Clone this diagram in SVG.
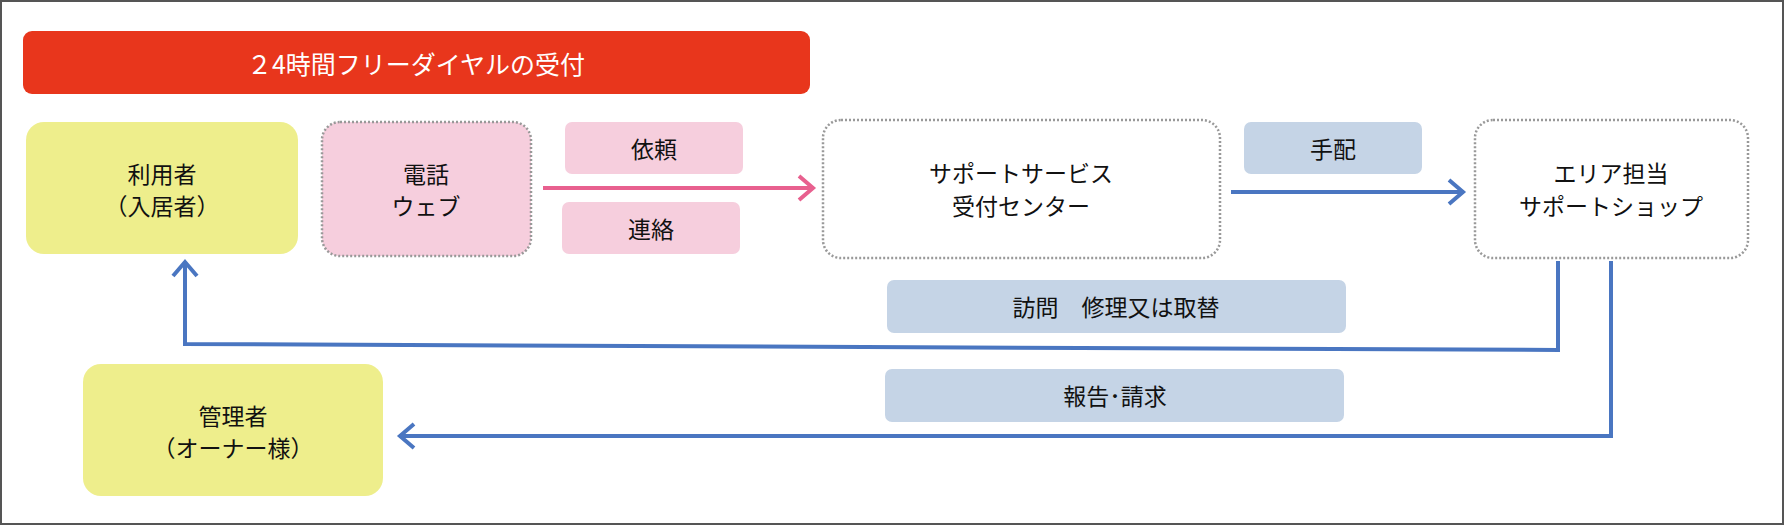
<svg xmlns="http://www.w3.org/2000/svg" width="1784" height="525" viewBox="0 0 1784 525">
<style>
text{font-family:"Noto Sans CJK JP","Noto Sans",sans-serif;font-size:23px;fill:#111;text-anchor:middle;dominant-baseline:central}
.y{fill:#eeee8c}.p{fill:#f6cedd}.b{fill:#c5d4e6}
.dot{fill:none;stroke:#999;stroke-width:2.5;stroke-dasharray:2 2}
.bl{fill:none;stroke:#4a76c1;stroke-width:4}
</style>
<rect x="1" y="1" width="1782" height="523" fill="#fff" stroke="#555" stroke-width="2"/>
<g id="title"><rect x="23" y="31" width="787" height="63" rx="9" fill="#e8361c"/><text x="416" y="63" style="fill:#fff;font-size:25px">２4時間フリーダイヤルの受付</text></g>
<g id="user"><rect class="y" x="26" y="122" width="272" height="132" rx="18"/><text x="162" y="173">利用者</text><text x="162" y="205">（入居者）</text></g>
<g id="phone"><rect class="p" x="322" y="122" width="209" height="134" rx="18"/><rect class="dot" x="322" y="122" width="209" height="134" rx="18"/><text x="426" y="173">電話</text><text x="426" y="205">ウェブ</text></g>
<g id="irai"><rect class="p" x="565" y="122" width="178" height="52" rx="7"/><text x="654" y="148">依頼</text></g>
<g id="renraku"><rect class="p" x="562" y="202" width="178" height="52" rx="7"/><text x="651" y="228">連絡</text></g>
<g id="center"><rect class="dot" x="823" y="120" width="397" height="138" rx="18"/><text x="1021" y="172">サポートサービス</text><text x="1021" y="205">受付センター</text></g>
<g id="tehai"><rect class="b" x="1244" y="122" width="178" height="52" rx="7"/><text x="1333" y="148">手配</text></g>
<g id="shop"><rect class="dot" x="1475" y="120" width="273" height="138" rx="18"/><text x="1611" y="172">エリア担当</text><text x="1611" y="205">サポートショップ</text></g>
<g id="houmon"><rect class="b" x="887" y="280" width="459" height="53" rx="7"/><text x="1116" y="306">訪問　修理又は取替</text></g>
<g id="houkoku"><rect class="b" x="885" y="369" width="459" height="53" rx="7"/><text x="1115" y="395">報告･請求</text></g>
<g id="owner"><rect class="y" x="83" y="364" width="300" height="132" rx="18"/><text x="233" y="415">管理者</text><text x="233" y="447">（オーナー様）</text></g>
<g id="connectors">
<path d="M543 188H813M799 176L813 188L799 200" fill="none" stroke="#e8608f" stroke-width="4"/>
<path class="bl" d="M1231 192H1463M1449 180L1463 192L1449 204"/>
<path class="bl" d="M1558 261V350L185 344V262M173 276L185 262L197 276"/>
<path class="bl" d="M1611 261V436H400M414 424L400 436L414 448"/>
</g>
</svg>
